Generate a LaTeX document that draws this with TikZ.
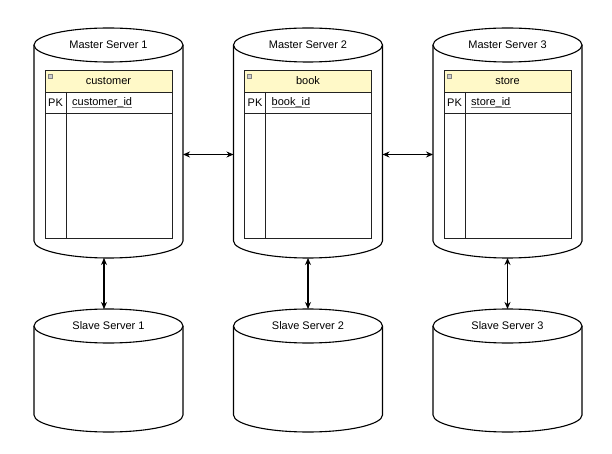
\documentclass[tikz,border=0pt]{standalone}
\usepackage{fontspec}
\setmainfont{Liberation Sans}
\usetikzlibrary{arrows.meta,calc}
\definecolor{hdr}{HTML}{FFF9C8}
\definecolor{tgray}{HTML}{222222}
\tikzset{
  cyl/.style={draw=black, line width=1.1bp, fill=white},
  tline/.style={draw=tgray, line width=0.9bp},
  box/.style={draw=none, inner sep=0pt, outer sep=0pt},
  lbl/.style={inner sep=0pt, font=\fontsize{11bp}{13bp}\selectfont},
  conn/.style={draw=black, line width=1.1bp, {Stealth[length=7bp,width=6bp]}-{Stealth[length=7bp,width=6bp]}},
}
\newcommand\mastercyl[5]{%
  \pgfmathsetmacro\cx{#2+74.5}
  \node[box, minimum width=149bp, minimum height=230bp] (m#1) at (\cx,143) {};
  \draw[cyl] (#2,45) -- (#2,241) arc[start angle=180,end angle=360,x radius=74.5bp,y radius=17bp] -- (#2+149,45);
  \draw[cyl] (\cx,45) ellipse[x radius=74.5bp,y radius=17bp];
  \node[lbl] (mt#1) at (\cx,45) {#3};
  \node[box, minimum width=127bp, minimum height=168bp, anchor=north west] (t#1) at (#2+11,70.5) {};
  \fill[white] (#2+11,70) rectangle (#2+138,238);
  \fill[hdr] (#2+11,70) rectangle (#2+138,92);
  \draw[tline] (#2+11,70) rectangle (#2+138,238);
  \draw[tline] (#2+11,92) -- (#2+138,92);
  \draw[tline] (#2+11,113) -- (#2+138,113);
  \draw[tline] (#2+32,92) -- (#2+32,238);
  \draw[draw=gray, fill=gray!40, line width=0.5bp] (#2+14,74) rectangle (#2+18,78);
  \node[lbl] (th#1) at (\cx,81) {#4};
  \node[lbl] (pk#1) at (#2+21.5,102.5) {PK};
  \node[lbl, anchor=west] (f#1) at (#2+38,102.5) {#5};
  \draw[gray, line width=0.8bp] ($(f#1.base west)+(0,1.8)$) -- ($(f#1.base east)+(0,1.8)$);
}
\newcommand\slavecyl[3]{%
  \pgfmathsetmacro\cx{#2+74.5}
  \node[box, minimum width=149bp, minimum height=123bp] (s#1) at (\cx,370.5) {};
  \draw[cyl] (#2,326) -- (#2,415) arc[start angle=180,end angle=360,x radius=74.5bp,y radius=17bp] -- (#2+149,326);
  \draw[cyl] (\cx,326) ellipse[x radius=74.5bp,y radius=17bp];
  \node[lbl] (st#1) at (\cx,326) {#3};
}
\begin{document}
\begin{tikzpicture}[x=1bp, y=-1bp]
  \useasboundingbox (0,0) rectangle (612,454);
  \fill[white] (0,0) rectangle (612,454);
  \mastercyl{1}{34}{Master Server 1}{customer}{customer\_id}
  \mastercyl{2}{233.5}{Master Server 2}{book}{book\_id}
  \mastercyl{3}{433}{Master Server 3}{store}{store\_id}
  \slavecyl{1}{34}{Slave Server 1}
  \slavecyl{2}{233.5}{Slave Server 2}
  \slavecyl{3}{433}{Slave Server 3}
  \draw[conn] (m1.east |- t1.center) -- (m2.west |- t1.center);
  \draw[conn] (m2.east |- t2.center) -- (m3.west |- t2.center);
  \draw[conn] ([xshift=-4.5bp]m1.south) -- ([xshift=-4.5bp]m1.south |- s1.north);
  \draw[conn] (m2.south) -- (s2.north);
  \draw[conn] (m3.south) -- (s3.north);
\end{tikzpicture}
\end{document}
